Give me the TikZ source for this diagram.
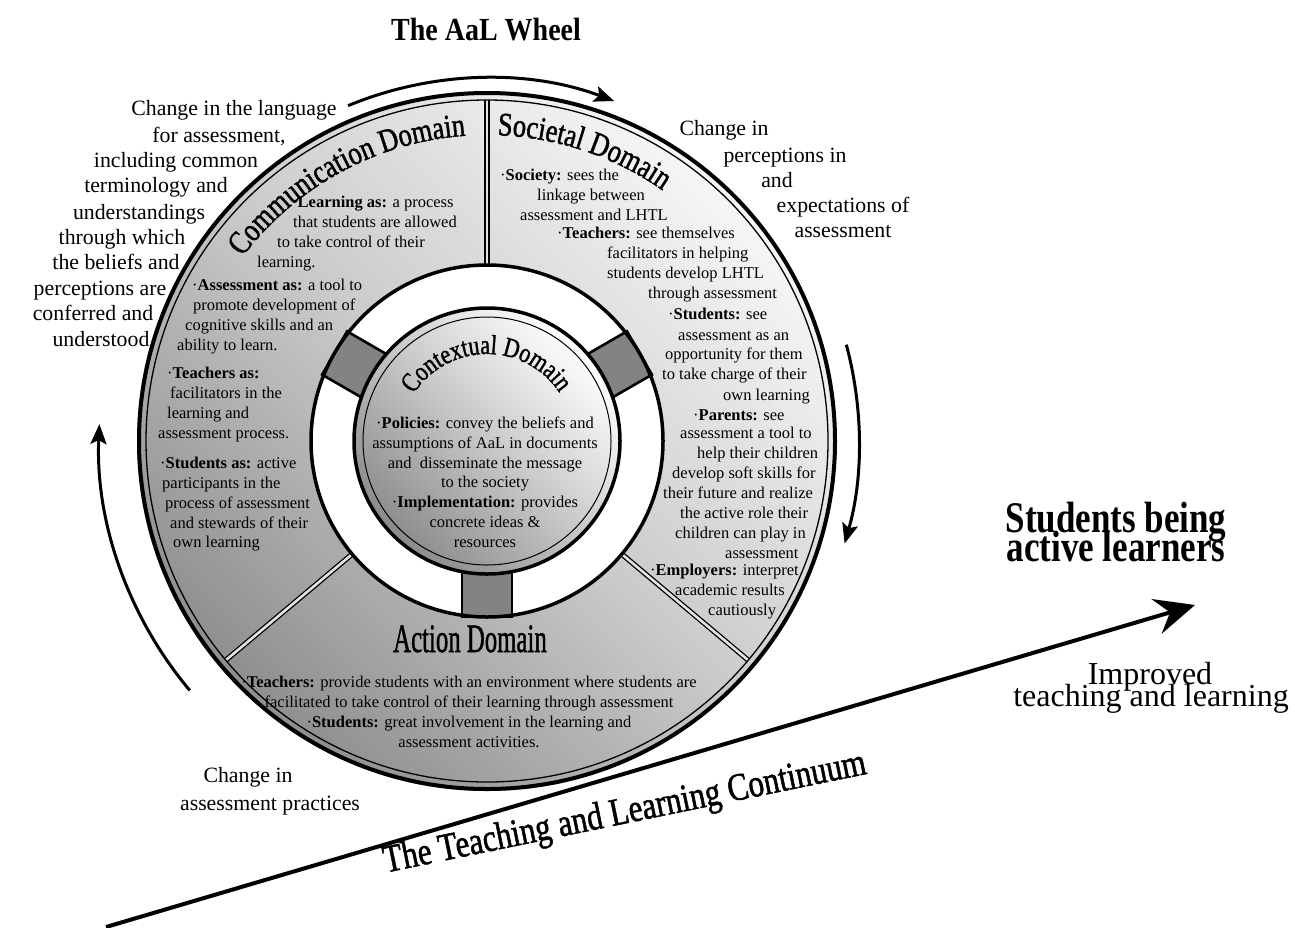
\documentclass[tikz,border=0pt]{standalone}
\usepackage{fontspec}
\setmainfont{Liberation Serif}
\newfontfamily\titlefont{Liberation Serif}[FakeStretch=0.8, FakeBold=1.3]
\usetikzlibrary{arrows.meta,decorations.text}
\definecolor{wheeldark}{HTML}{8E8E8E}
\definecolor{wheelmid}{HTML}{CBCBCB}
\definecolor{wheellight}{HTML}{F7F7F7}
\definecolor{hubdark}{HTML}{8A8A8A}
\definecolor{hubmid}{HTML}{C8C8C8}
\definecolor{spokegray}{HTML}{838383}
\definecolor{dividerfill}{HTML}{E4E4E4}
\begin{document}
\begin{tikzpicture}[x=1pt,y=1pt,
  bodytext/.style={font=\fontsize{16.5}{20}\selectfont, inner sep=0pt},
  sidetext/.style={font=\fontsize{21.8}{25.5}\selectfont, inner sep=0pt, anchor=base},
  cyclearrow/.style={line width=3pt, -{Stealth[length=20pt,width=16pt,inset=4pt]}},
  spoke/.style={draw=black, line width=2.6pt, fill=spokegray},
  divider/.style={line width=1.3pt, double=dividerfill, double distance=2.6pt},
]
\useasboundingbox (0,0) rectangle (1295,-927);

% ---------------- the wheel ----------------
\begin{scope}[shift={(487,-441)}]
  \shade[bottom color=wheeldark, top color=wheellight, middle color=wheelmid, shading angle=-45]
    (0,0) circle[radius=350];
  \fill[white] (0,0) circle[radius=176];
  % spokes joining the hub to the rim
  \foreach \a in {150,30,270}
    \draw[spoke, rotate=\a] (110,-25) rectangle (176,25);
  % hub
  \shade[bottom color=hubdark, top color=white, middle color=hubmid, shading angle=-45]
    (0,0) circle[radius=133];
  \draw[line width=1pt] (0,0) circle[radius=124];
  \draw[line width=3.5pt] (0,0) circle[radius=133];
  % domain dividers
  \foreach \a in {90,220,320}
    \draw[divider] (\a:176) -- (\a:341);
  \draw[line width=1.3pt] (0,0) circle[radius=341];
  \draw[line width=4pt] (0,0) circle[radius=348];
  \draw[line width=3.5pt] (0,0) circle[radius=176];

  % turning arrows round the wheel
  \draw[cyclearrow] (112.5:363) arc[start angle=112.5, end angle=69.5, radius=363];
  \draw[cyclearrow] (15:372) arc[start angle=15, end angle=-16, radius=372];
  \draw[cyclearrow] (220:388) arc[start angle=220, end angle=177.5, radius=388];

  % curved domain titles
  \path[decorate, decoration={text along path, text align=center,
      text={|\titlefont\fontsize{33}{36}\selectfont|Communication Domain}}]
    (148:306) arc[start angle=148, end angle=89, radius=306];
  \path[decorate, decoration={text along path, text align=center,
      text={|\titlefont\fontsize{33}{36}\selectfont|Societal Domain}}]
    (95:306) arc[start angle=95, end angle=48, radius=306];
  \path[decorate, decoration={text along path, text align=center,
      text={|\titlefont\fontsize{27.5}{30}\selectfont|Contextual Domain}}]
    (160:87) arc[start angle=160, end angle=21, radius=87];
\end{scope}

\node[inner sep=0pt, anchor=base, font=\titlefont\fontsize{31}{34}\selectfont] (actiontitle) at (470,-652)
  {\scalebox{1}[1.3]{Action Domain}};

% ---------------- texts inside the wheel ----------------
\foreach \x/\y/\txt [count=\i] in {
  292/207/{·\textbf{Learning as:} a process},
  293/227/{that students are allowed},
  277/247/{to take control of their},
  257/267/{learning.},
  192/290/{·\textbf{Assessment as:} a tool to},
  193/310/{promote development of},
  185/330/{cognitive skills and an},
  177/350/{ability to learn.},
  167/378/{·\textbf{Teachers as:}},
  170/398/{facilitators in the},
  167/418/{learning and},
  158/438/{assessment process.},
  160/468/{·\textbf{Students as:} active},
  162/488/{participants in the},
  165/508/{process of assessment},
  170/528/{and stewards of their},
  173/547/{own learning}}
  \node[bodytext, anchor=base west] (comm\i) at (\x,-\y) {\txt};

\foreach \x/\y/\txt [count=\i] in {
  500/180/{·\textbf{Society:} sees the},
  537/200/{linkage between},
  520/220/{assessment and LHTL},
  557/238/{·\textbf{Teachers:} see themselves},
  607/258/{facilitators in helping},
  607/278/{students develop LHTL},
  648/298/{through assessment},
  668/319/{·\textbf{Students:} see},
  678/340/{assessment as an},
  665/359/{opportunity for them},
  662/379/{to take charge of their},
  723/400/{own learning},
  693/420/{·\textbf{Parents:} see},
  680/438/{assessment a tool to},
  697/458/{help their children},
  672/478/{develop soft skills for},
  663/498/{their future and realize},
  680/518/{the active role their},
  675/538/{children can play in},
  725/558/{assessment},
  650/575/{·\textbf{Employers:} interpret},
  675/595/{academic results},
  708/615/{cautiously}}
  \node[bodytext, anchor=base west] (soc\i) at (\x,-\y) {\txt};

\foreach \y/\txt [count=\i] in {
  428/{·\textbf{Policies:} convey the beliefs and},
  448/{assumptions of AaL in documents},
  468/{and \ disseminate the message},
  487/{to the society},
  507/{·\textbf{Implementation:} provides},
  527/{concrete ideas \&},
  547/{resources}}
  \node[bodytext, anchor=base] (ctx\i) at (485,-\y) {\txt};

\foreach \y/\txt [count=\i] in {
  687/{·\textbf{Teachers:} provide students with an environment where students are},
  707/{facilitated to take control of their learning through assessment},
  727/{·\textbf{Students:} great involvement in the learning and},
  747/{assessment activities.}}
  \node[bodytext, anchor=base] (act\i) at (469,-\y) {\txt};

% ---------------- texts round the wheel ----------------
\foreach \x/\y/\txt [count=\i] in {
  234/115/{Change in the language},
  219/142/{for assessment,},
  176/167/{including common},
  156/192/{terminology and},
  139/219/{understandings},
  122/244/{through which},
  116/269/{the beliefs and},
  100/295/{perceptions are},
  93/320/{conferred and},
  101/346/{understood}}
  \node[sidetext] (lang\i) at (\x,-\y) {\txt};

\foreach \x/\y/\txt [count=\i] in {
  724/135/{Change in},
  785/162/{perceptions in},
  777/187/{and},
  843/212/{expectations of},
  843/237/{assessment}}
  \node[sidetext] (perc\i) at (\x,-\y) {\txt};

\foreach \x/\y/\txt [count=\i] in {
  248/782/{Change in},
  270/810/{assessment practices}}
  \node[sidetext] (prac\i) at (\x,-\y) {\txt};

\node[inner sep=0pt, anchor=base, font=\fontsize{28}{30}\bfseries\selectfont] (wheeltitle) at (486,-40)
  {\scalebox{1}[1.15]{The AaL Wheel}};

\node[inner sep=0pt, anchor=base, font=\fontsize{35}{24}\bfseries\selectfont] (active1) at (1116,-532)
  {\scalebox{1}[1.25]{Students being}};
\node[inner sep=0pt, anchor=base, font=\fontsize{35}{24}\bfseries\selectfont] (active2) at (1116,-561)
  {\scalebox{1}[1.25]{active learners}};

\node[inner sep=0pt, anchor=base, font=\fontsize{32}{24}\selectfont] (improved1) at (1150,-684) {Improved};
\node[inner sep=0pt, anchor=base, font=\fontsize{32}{24}\selectfont] (improved2) at (1151,-706) {teaching and learning};

% ---------------- the continuum ----------------
\coordinate (contstart) at (106,-927);
\coordinate (conttip) at (1195,-605);
\draw[line width=4pt, -{Stealth[length=40pt,width=36pt,inset=14pt]}] (contstart) -- (conttip);
\node[inner sep=0pt, rotate=11.6, font=\titlefont\fontsize{39}{42}\selectfont] (continuum) at (625,-814)
  {The Teaching and Learning Continuum};

\end{tikzpicture}
\end{document}
